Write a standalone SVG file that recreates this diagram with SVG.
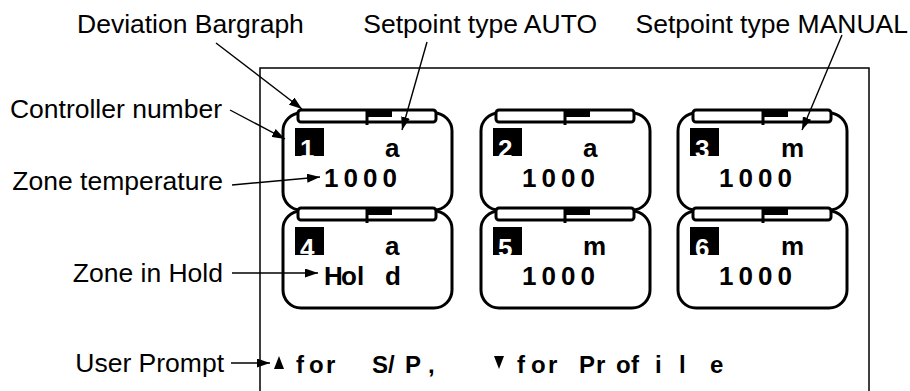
<svg xmlns="http://www.w3.org/2000/svg" width="910" height="391" viewBox="0 0 910 391">
<style>
.lbl{font-family:"Liberation Sans",Arial,sans-serif;font-size:26.5px;fill:#000}
.big{font-family:"Liberation Sans",Arial,sans-serif;font-size:26px;font-weight:bold;fill:#000}
.num{font-family:"Liberation Sans",Arial,sans-serif;font-size:26px;font-weight:bold;fill:#000;letter-spacing:5px}
.dig{font-family:"Liberation Sans",Arial,sans-serif;font-size:26px;font-weight:bold;fill:#fff}
.prm{font-family:"Liberation Sans",Arial,sans-serif;font-size:24px;font-weight:bold;fill:#000}
.body{fill:#fff;stroke:#000;stroke-width:3}
.bar{fill:#fff;stroke:#000;stroke-width:3}
.ldr{stroke:#000;stroke-width:1.4;fill:none;marker-end:url(#ah)}
</style>
<defs>
<marker id="ah" markerUnits="userSpaceOnUse" markerWidth="13" markerHeight="9" refX="13" refY="4.5" orient="auto">
<path d="M0,0 L13,4.5 L0,9 z" fill="#000"/>
</marker>
</defs>
<rect width="910" height="391" fill="#fff"/>
<rect id="frame" x="260" y="68" width="609" height="340" fill="none" stroke="#000" stroke-width="1.5"/>

<g id="card1">
<rect class="body" x="283" y="113" width="169" height="97" rx="18"/>
<rect class="bar" x="298" y="110" width="138" height="12" rx="3"/>
<rect x="366" y="110" width="26" height="7"/>
<line x1="367" y1="110" x2="367" y2="125" stroke="#000" stroke-width="3"/>
<rect x="295" y="128" width="29" height="28"/>
<text class="dig" x="300" y="158">1</text>
<text class="big" x="385" y="157">a</text>
<text class="num" x="324" y="187">1000</text>
</g>
<g id="card2">
<rect class="body" x="481" y="113" width="169" height="97" rx="18"/>
<rect class="bar" x="496" y="110" width="138" height="12" rx="3"/>
<rect x="564" y="110" width="26" height="7"/>
<line x1="565" y1="110" x2="565" y2="125" stroke="#000" stroke-width="3"/>
<rect x="493" y="128" width="29" height="28"/>
<text class="dig" x="498" y="158">2</text>
<text class="big" x="583" y="157">a</text>
<text class="num" x="522" y="187">1000</text>
</g>
<g id="card3">
<rect class="body" x="678" y="113" width="169" height="97" rx="18"/>
<rect class="bar" x="693" y="110" width="138" height="12" rx="3"/>
<rect x="762" y="110" width="26" height="7"/>
<line x1="763" y1="110" x2="763" y2="125" stroke="#000" stroke-width="3"/>
<rect x="690" y="128" width="29" height="28"/>
<text class="dig" x="695" y="158">3</text>
<text class="big" x="781" y="157">m</text>
<text class="num" x="719" y="187">1000</text>
</g>
<g id="card4">
<rect class="body" x="283" y="211" width="169" height="97" rx="18"/>
<rect class="bar" x="298" y="208" width="138" height="12" rx="3"/>
<rect x="366" y="208" width="26" height="7"/>
<line x1="367" y1="208" x2="367" y2="223" stroke="#000" stroke-width="3"/>
<rect x="295" y="227" width="29" height="28"/>
<text class="dig" x="300" y="257">4</text>
<text class="big" x="385" y="255">a</text>
<text class="big" x="324 341 357 370 385" y="285">Hol d</text>
</g>
<g id="card5">
<rect class="body" x="481" y="211" width="169" height="97" rx="18"/>
<rect class="bar" x="496" y="208" width="138" height="12" rx="3"/>
<rect x="564" y="208" width="26" height="7"/>
<line x1="565" y1="208" x2="565" y2="223" stroke="#000" stroke-width="3"/>
<rect x="493" y="227" width="29" height="28"/>
<text class="dig" x="498" y="257">5</text>
<text class="big" x="583" y="255">m</text>
<text class="num" x="522" y="285">1000</text>
</g>
<g id="card6">
<rect class="body" x="678" y="211" width="169" height="97" rx="18"/>
<rect class="bar" x="693" y="208" width="138" height="12" rx="3"/>
<rect x="762" y="208" width="26" height="7"/>
<line x1="763" y1="208" x2="763" y2="223" stroke="#000" stroke-width="3"/>
<rect x="690" y="227" width="29" height="28"/>
<text class="dig" x="695" y="257">6</text>
<text class="big" x="781" y="255">m</text>
<text class="num" x="719" y="285">1000</text>
</g>

<g id="labels">
<text class="lbl" x="77" y="33">Deviation Bargraph</text>
<text class="lbl" x="597" y="33" text-anchor="end">Setpoint type AUTO</text>
<text class="lbl" x="908" y="33" text-anchor="end">Setpoint type MANUAL</text>
<text class="lbl" x="222" y="118" text-anchor="end">Controller number</text>
<text class="lbl" x="223" y="190" text-anchor="end">Zone temperature</text>
<text class="lbl" x="223" y="282" text-anchor="end">Zone in Hold</text>
<text class="lbl" x="224" y="372" text-anchor="end">User Prompt</text>
</g>

<g id="prompt">
<polygon points="274,369 284,369 279,356" fill="#000"/>
<text class="prm" x="296 305 309 326 340 372 388 400 405 428" y="373">f or S/ P,</text>
<polygon points="494,356 504,356 499,369" fill="#000"/>
<text class="prm" x="517 526 531 548 560 579 596 606 616 631 645 655 665 679 690 710" y="373">f or Pr of i l e</text>
</g>

<g id="connectors">
<line class="ldr" x1="216" y1="43" x2="302" y2="109"/>
<line class="ldr" x1="427" y1="42" x2="402" y2="130"/>
<line class="ldr" x1="842" y1="35" x2="802" y2="130"/>
<line class="ldr" x1="230" y1="110" x2="285" y2="139"/>
<line class="ldr" x1="232" y1="185" x2="320" y2="177"/>
<line class="ldr" x1="232" y1="273" x2="318" y2="273"/>
<line class="ldr" x1="231" y1="363" x2="270" y2="363"/>
</g>
</svg>
